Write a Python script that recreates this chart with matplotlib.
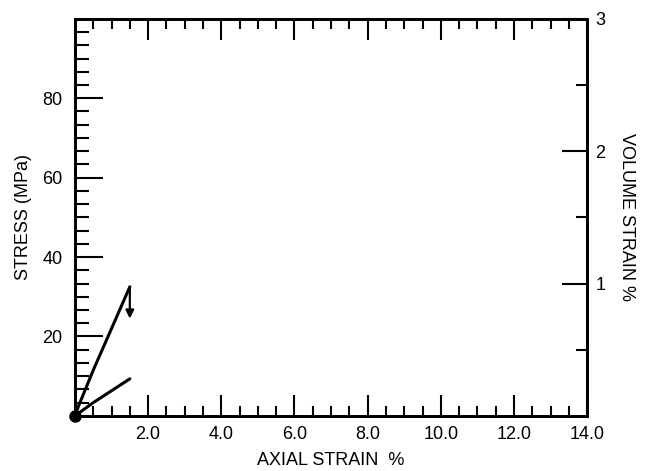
import matplotlib
matplotlib.use("Agg")
import matplotlib.pyplot as plt
import numpy as np

plt.rcParams['font.family'] = ['Liberation Sans', 'DejaVu Sans']

# stress curve (axial strain %, MPa)
axial_stress = [0.0, 0.1, 0.5, 1.0, 1.5]
stress = [0.0, 2.5, 11.5, 22.0, 32.5]

# volume strain curve (axial strain %, volume strain %)
axial_vol = [0.0, 0.5, 1.0, 1.5]
vol_strain = [0.0, 0.10, 0.19, 0.28]

# drop after peak
drop_x = 1.5
drop_from = 32.5
drop_to = 24.5

x_major = [2, 4, 6, 8, 10, 12, 14]
x_labels = ["2.0", "4.0", "6.0", "8.0", "10.0", "12.0", "14.0"]
y_major = [20, 40, 60, 80]
v_major = [1, 2, 3]

fig = plt.figure(figsize=(6.46, 4.71), dpi=100)
ax = fig.add_axes([0.116, 0.117, 0.793, 0.843])
ax2 = ax.twinx()

ax.plot(axial_stress, stress, color='black', lw=2.2, solid_capstyle='round')
ax2.plot(axial_vol, vol_strain, color='black', lw=2.2, solid_capstyle='round')
ax.plot([0], [0], 'o', color='black', ms=8, clip_on=False, zorder=5)
ax.annotate('', xy=(drop_x, drop_to), xytext=(drop_x, drop_from),
            arrowprops=dict(arrowstyle='-|>', color='black', lw=1.6,
                            mutation_scale=12, shrinkA=0, shrinkB=0))

ax.set_xlim(0, 14)
ax.set_ylim(0, 100)
ax2.set_ylim(0, 3)

ax.set_xticks(x_major)
ax.set_xticklabels(x_labels)
ax.set_xticks(np.arange(0.5, 14, 0.5), minor=True)
ax.set_yticks(y_major)
minor_y = [v for i, v in enumerate(np.linspace(0, 100, 31)) if 0 < i < 30 and i % 6 != 0]
ax.set_yticks(minor_y, minor=True)
ax2.set_yticks(v_major)
ax2.set_yticks([0.5, 1.5, 2.5], minor=True)

ax.tick_params(axis='both', which='both', direction='in', width=1.5, labelsize=13)
ax.tick_params(axis='x', which='both', top=True, bottom=True)
ax.tick_params(axis='x', which='major', length=15, pad=7)
ax.tick_params(axis='x', which='minor', length=7)
ax.tick_params(axis='y', which='major', length=20, pad=9, left=True, right=False)
ax.tick_params(axis='y', which='minor', length=10, left=True, right=False)
ax2.tick_params(axis='y', which='both', direction='in', width=1.5, labelsize=13)
ax2.tick_params(axis='y', which='major', length=18, pad=6)
ax2.tick_params(axis='y', which='minor', length=8)

for a in (ax, ax2):
    for s in a.spines.values():
        s.set_linewidth(2)

ax.set_xlabel("AXIAL STRAIN  %", fontsize=13, labelpad=7)
ax.set_ylabel("STRESS (MPa)", fontsize=13, labelpad=7)
ax2.set_ylabel("VOLUME STRAIN %", fontsize=13, rotation=-90, labelpad=21)

fig.savefig("out.png", dpi=100)
